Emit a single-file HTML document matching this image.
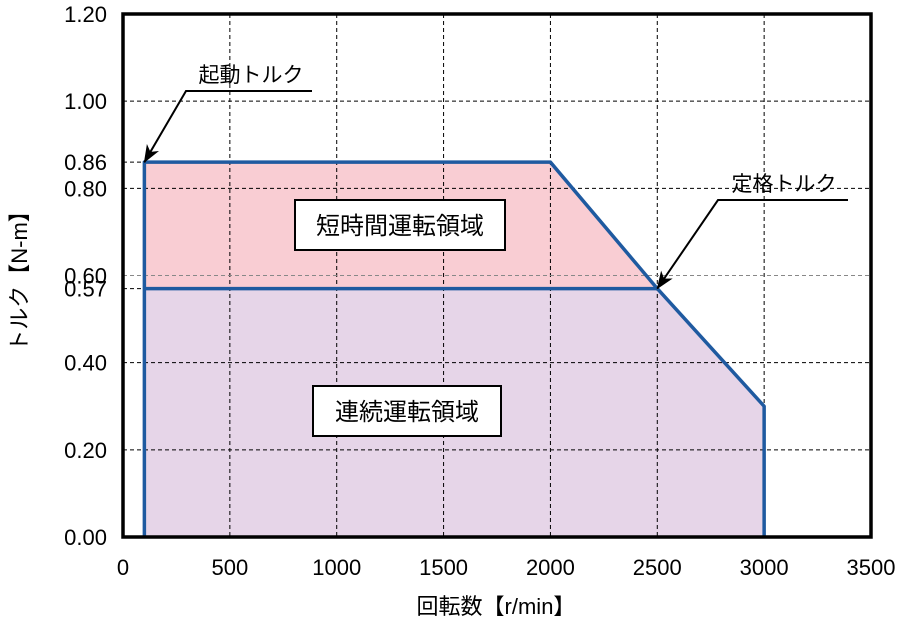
<!DOCTYPE html>
<html><head><meta charset="utf-8"><style>
body{margin:0;background:#fff;width:900px;height:624px;overflow:hidden}
svg{font-family:"Liberation Sans","Noto Sans CJK JP",sans-serif}
</style></head><body>
<svg id="chart" width="900" height="624" viewBox="0 0 900 624" xmlns="http://www.w3.org/2000/svg">
<defs>
<marker id="arrow" markerWidth="18" markerHeight="14" refX="17" refY="7" orient="auto" markerUnits="userSpaceOnUse"><path d="M0,0 L18,7 L0,14 L5,7 z" fill="#000"/></marker></defs>
<g id="areas"></g>
<g id="ticks"></g>
<rect x="123" y="14" width="748" height="523" fill="none" stroke="#000" stroke-width="3.5"/>
<text transform="translate(27,276) rotate(-90)" text-anchor="middle" font-size="22" fill="#000">トルク【N-m】</text>
<text x="496" y="614" text-anchor="middle" font-size="22" fill="#000">回転数【r/min】</text>
</svg>
<script>
const xTicks=[0,500,1000,1500,2000,2500,3000,3500];
const yTicks=[0,0.2,0.4,0.6,0.8,1.0,1.2];
const yExtraTicks=[0.57,0.86];
const shortSpeed=[100,100,2000,2500,3000,3000];
const shortTorque=[0,0.86,0.86,0.57,0.30,0];
const contSpeed=[100,100,2500,3000,3000];
const contTorque=[0,0.57,0.57,0.30,0];
const NS="http://www.w3.org/2000/svg";
const X=v=>123+v*748/3500, Y=v=>537-v*523/1.2;
function mk(tag,attrs,parent){const e=document.createElementNS(NS,tag);for(const k in attrs)e.setAttribute(k,attrs[k]);parent.appendChild(e);return e;}
const areas=document.getElementById('areas'),ticks=document.getElementById('ticks');
const pts=(xs,ys)=>xs.map((x,i)=>X(x)+','+Y(ys[i])).join(' ');
let p=mk('polygon',{points:pts(shortSpeed,shortTorque),fill:'#f9cdd3'},areas);


p=mk('polygon',{points:pts(contSpeed,contTorque),fill:'#e6d5e8'},areas);


xTicks.forEach(v=>{if(v>0&&v<3500){const l=mk('line',{x1:X(v),x2:X(v),y1:14,y2:537,stroke:'#000','stroke-width':1,'stroke-dasharray':'4,3'},ticks);

}
const t=mk('text',{x:X(v),y:575,'text-anchor':'middle','font-size':22},ticks);t.textContent=v;

});
yTicks.forEach(v=>{if(v>0&&v<1.2){const l=mk('line',{x1:123,x2:871,y1:Y(v),y2:Y(v),stroke:v===0.6?'#888':'#000','stroke-width':1,'stroke-dasharray':'4,3'},ticks);

}
const t=mk('text',{x:107,y:Y(v)+8,'text-anchor':'end','font-size':22},ticks);t.textContent=v.toFixed(2);

});
yExtraTicks.forEach(v=>{const l=mk('line',{x1:123,x2:X(100),y1:Y(v),y2:Y(v),stroke:'#000','stroke-width':1,'stroke-dasharray':'4,3'},ticks);


const t=mk('text',{x:107,y:Y(v)+8,'text-anchor':'end','font-size':22},ticks);t.textContent=v.toFixed(2);

});
let c=mk('polyline',{points:pts(shortSpeed,shortTorque),fill:'none',stroke:'#1f5aa0','stroke-width':3.5,'stroke-linejoin':'round'},ticks);


c=mk('polyline',{points:pts(contSpeed.slice(1,3),contTorque.slice(1,3)),fill:'none',stroke:'#1f5aa0','stroke-width':3.5},ticks);


function box(x,y,w,h,txt,name){const g=mk('g',{},ticks);
mk('rect',{x:x,y:y,width:w,height:h,fill:'#fff',stroke:'#000','stroke-width':2},g);
const t=mk('text',{x:x+w/2,y:y+h/2+9,'text-anchor':'middle','font-size':24},g);t.textContent=txt;}
box(295,200,210,50,'短時間運転領域','short-time-label');
box(313,386,188,50,'連続運転領域','continuous-label');
function ann(tx,ty,txt,lx1,lx2,ly,ax,ay,name){const g=mk('g',{},ticks);
const t=mk('text',{x:tx,y:ty,'text-anchor':'middle','font-size':21},g);t.textContent=txt;
mk('polyline',{points:`${lx1},${ly} ${lx2},${ly} ${ax},${ay}`,fill:'none',stroke:'#000','stroke-width':2,'marker-end':'url(#arrow)'},g);}
ann(251,82,'起動トルク',312,186,91,X(100),Y(0.86),'starting-torque-annotation');
ann(784,191,'定格トルク',848,718,200,X(2500),Y(0.57),'rated-torque-annotation');
</script>
</body></html>
